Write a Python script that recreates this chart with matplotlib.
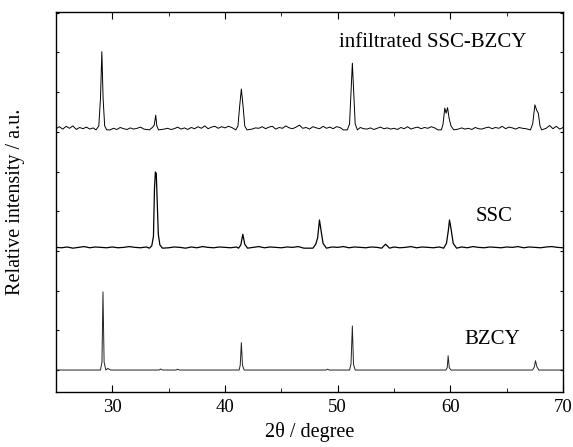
import numpy as np
import matplotlib.pyplot as plt

# Fonte serifada parecida com Times
plt.rcParams['font.family'] = ['Liberation Serif', 'DejaVu Serif']

# Deslocamento vertical de cada difratograma
deslocamentos = {'BZCY': 0, 'SSC': 3070, 'infiltrated SSC-BZCY': 6050}

# Pontos dos picos (2θ, intensidade acima da linha de base)
bzcy_x = [25.0, 28.95, 29.08, 29.17, 29.27, 29.42, 29.6, 29.72, 29.85,
          34.15, 34.3, 34.45, 35.65, 35.8, 35.95,
          41.25, 41.35, 41.45, 41.55, 41.7, 48.95, 49.1, 49.25,
          51.05, 51.18, 51.3, 51.4, 51.55,
          59.6, 59.72, 59.8, 59.9, 60.05,
          67.3, 67.45, 67.55, 67.68, 67.85, 70.0]
bzcy_y = [0, 0, 200, 1970, 200, 0, 40, 20, 0,
          0, 25, 0, 0, 20, 0,
          0, 120, 690, 120, 0, 0, 20, 0,
          0, 150, 1110, 150, 0,
          0, 60, 360, 60, 0,
          0, 80, 235, 80, 0, 0]

ssc_x = [33.3, 33.5, 33.65, 33.74, 33.82, 33.9, 33.98, 34.08, 34.22, 34.45,
         41.2, 41.4, 41.58, 41.75, 42.0,
         47.8, 48.05, 48.22, 48.38, 48.52, 48.7, 49.0,
         53.9, 54.25, 54.6,
         59.4, 59.65, 59.82, 59.92, 60.05, 60.25, 60.55]
ssc_y = [0, 60, 300, 1500, 1920, 1880, 1200, 350, 80, 0,
         0, 80, 350, 100, 0,
         0, 100, 260, 710, 450, 120, 0,
         0, 100, 0,
         0, 120, 450, 710, 500, 120, 0]

inf_x = [28.55, 28.8, 28.95, 29.07, 29.18, 29.32, 29.5,
         33.3, 33.55, 33.72, 33.85, 33.95, 34.1,
         40.95, 41.15, 41.3, 41.45, 41.6, 41.75, 41.95,
         50.85, 51.05, 51.17, 51.3, 51.43, 51.55, 51.75,
         59.2, 59.35, 59.5, 59.62, 59.75, 59.88, 60.05, 60.3,
         67.1, 67.3, 67.5, 67.65, 67.8, 67.95, 68.1]
inf_y = [0, 100, 800, 1970, 800, 100, 0,
         0, 60, 120, 370, 100, 0,
         0, 100, 600, 1030, 600, 100, 0,
         0, 150, 900, 1680, 900, 150, 0,
         0, 150, 550, 420, 560, 300, 100, 0,
         0, 150, 630, 500, 420, 100, 0]

# Ruído da linha de base (estimado do gráfico), a cada 0.3° para o infiltrado
ruido_inf = [30, 80, 20, 90, 40, 100, 10, 60, 30, 70,
             20, 50, 0, 0, 0, 0, 0, 40, 10, 60,
             30, 10, 50, 20, 40, 70, 20, 60, 90, 50,
             0, 60, 20, 40, 10, 30, 70, 20, 50, 10,
             60, 30, 80, 40, 100, 30, 70, 90, 40, 80,
             50, 90, 60, 0, 0, 0, 40, 70, 20, 50,
             40, 80, 30, 70, 90, 20, 60, 40, 100, 50,
             30, 70, 120, 40, 60, 20, 80, 50, 30, 90,
             40, 70, 30, 80, 60, 0, 0, 0, 50, 20,
             60, 30, 20, 50, 10, 40, 70, 30, 50, 20,
             40, 10, 60, 30, 80, 20, 50, 70, 30, 60,
             40, 80, 50, 0, 0, 0, 0, 30, 60, 20,
             50, 20, 40, 10, 60, 30, 20, 50, 70, 30,
             60, 40, 90, 30, 70, 50, 20, 60, 40, 30,
             0, 0, 0, 0, 80, 40, 110, 30, 90, 20, 60]

# Ruído do SSC, a cada 0.5°
ruido_ssc = [20, 10, 30, 0, 20, 40, 10, 30, 20, 10,
             30, 10, 20, 40, 20, 10, 30, 0, 0, 20,
             10, 30, 20, 0, 30, 10, 40, 20, 10, 30,
             20, 10, 30, 0, 0, 20, 40, 10, 30, 20,
             10, 30, 20, 40, 0, 0, 0, 20, 10, 30,
             20, 40, 10, 30, 20, 10, 30, 20, 0, 20,
             30, 10, 20, 40, 10, 30, 20, 10, 30, 0,
             0, 20, 30, 10, 40, 20, 10, 30, 20, 10,
             30, 20, 40, 10, 30, 20, 10, 30, 40, 20,
             10]

rotulos = ['infiltrated SSC-BZCY', 'SSC', 'BZCY']


def juntar(picos_x, picos_y, passo, ruido):
    # Junta os pontos dos picos com os pontos de ruído fora deles
    px = np.array(picos_x, dtype=float)
    py = np.array(picos_y, dtype=float)
    if ruido is None:
        return px, py
    rx = 25.0 + passo * np.arange(len(ruido))
    ry = np.array(ruido, dtype=float)
    manter = np.array([np.min(np.abs(px - v)) > 0.2 for v in rx])
    x = np.concatenate([px, rx[manter]])
    y = np.concatenate([py, ry[manter]])
    ordem = np.argsort(x)
    return x[ordem], y[ordem]


fig = plt.figure(figsize=(5.73, 4.47), dpi=100)
ax = fig.add_axes([0.0977, 0.123, 0.885, 0.850])

x, y = juntar(bzcy_x, bzcy_y, 0.3, None)
ax.plot(x, y + deslocamentos['BZCY'], color='#222222', lw=0.7)

x, y = juntar(ssc_x, ssc_y, 0.5, ruido_ssc)
ax.plot(x, y + deslocamentos['SSC'], color='black', lw=0.9)

x, y = juntar(inf_x, inf_y, 0.3, ruido_inf)
ax.plot(x, y + deslocamentos['infiltrated SSC-BZCY'], color='black', lw=0.7)

# Rótulos de cada difratograma
ax.text(58.4, 8240, rotulos[0], fontsize=15, ha='center', va='center')
ax.text(63.9, 3880, rotulos[1], fontsize=15, ha='center', va='center')
ax.text(63.7, 760, rotulos[2], fontsize=15, ha='center', va='center')

ax.set_xlim(25, 70)
ax.set_ylim(-554, 9018)
ax.set_xticks([30, 40, 50, 60, 70])
ax.set_xticks([35, 45, 55, 65], minor=True)
ax.set_yticks(np.arange(0, 9001, 1000))
ax.set_yticklabels([])
ax.tick_params(axis='x', which='major', direction='in', top=True, length=5,
               labelsize=13.5, pad=5)
ax.tick_params(axis='x', which='minor', direction='in', top=True, length=3)
ax.tick_params(axis='y', direction='in', right=True, length=2.5)
for s in ax.spines.values():
    s.set_linewidth(1.0)

ax.set_xlabel('2θ / degree', fontsize=14.5, labelpad=4)
ax.set_ylabel('Relative intensity / a.u.', fontsize=14.5, labelpad=19)

plt.savefig('out.png', dpi=100)
plt.close()
